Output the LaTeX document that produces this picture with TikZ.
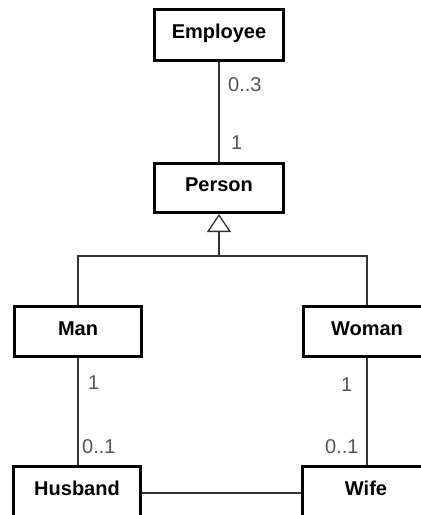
\documentclass[tikz,border=0pt]{standalone}
\usepackage{fontspec}
\setmainfont{Liberation Sans}
\usetikzlibrary{arrows.meta}
\definecolor{lab}{HTML}{555555}
\definecolor{ln}{HTML}{333333}
\tikzset{
  cls/.style={draw=black, line width=3pt, minimum width=127pt, minimum height=50pt,
    inner sep=0pt, font=\fontsize{20}{22}\selectfont\bfseries, text height=14.5pt, text depth=7.5pt},
  mult/.style={text=lab, inner sep=0pt, anchor=west, font=\fontsize{20}{22}\selectfont},
  conn/.style={draw=ln, line width=1.3pt}
}
\begin{document}
\begin{tikzpicture}[x=1pt,y=-1pt]
\useasboundingbox (0,0) rectangle (421,515);
\node[cls, minimum width=129pt, minimum height=51pt] (emp) at (219,35) {Employee};
\node[cls, minimum width=129pt, minimum height=49pt] (per) at (219,188) {Person};
\node[cls] (man) at (78,331.5) {Man};
\node[cls] (wom) at (367,331.5) {Woman};
\node[cls, minimum height=52pt] (hus) at (77,492) {Husband};
\node[cls, minimum height=52pt] (wif) at (366,492) {Wife};
\coordinate (j) at (219,256);
\draw[conn] (emp) -- (per);
\draw[conn, {Triangle[open, length=18pt, width=24pt, line width=1.3pt]}-] (per.south) -- (j);
\draw[conn] (man.north) |- (j) -| (wom.north);
\draw[conn] (man.south) -- (man.south |- hus.north);
\draw[conn] (wom.south) -- (wom.south |- wif.north);
\draw[conn] (hus.east |- 0,493) -- (wif.west |- 0,493);
\node[mult] (m1) at (228,85) {0..3};
\node[mult] (m2) at (231,143) {1};
\node[mult] (m3) at (88,383) {1};
\node[mult] (m4) at (82,447) {0..1};
\node[mult] (m5) at (341,385) {1};
\node[mult] (m6) at (325,447) {0..1};
\end{tikzpicture}
\end{document}
